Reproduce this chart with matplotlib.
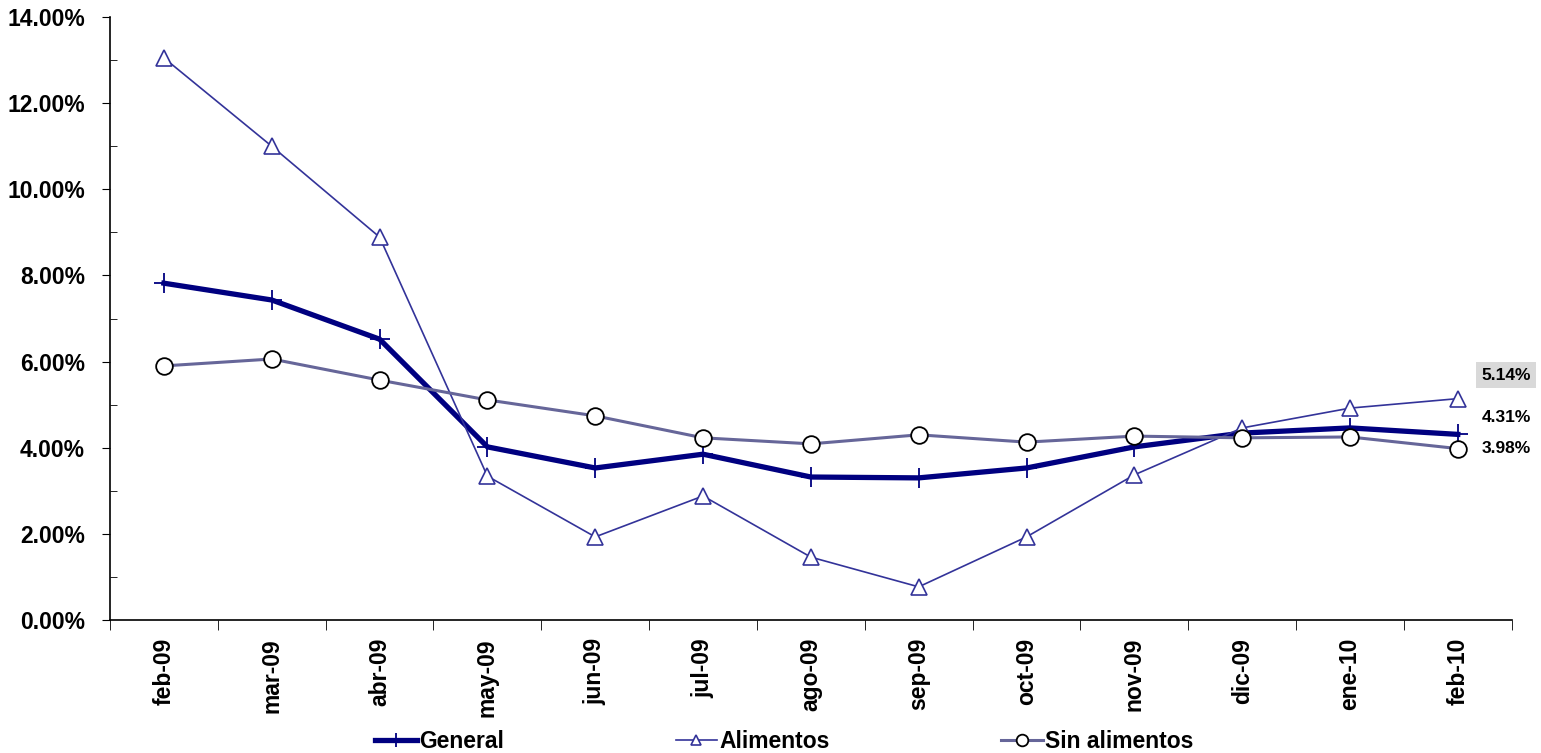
import matplotlib.pyplot as plt
from matplotlib.ticker import FuncFormatter, MultipleLocator

plt.rcParams['font.family'] = ['Liberation Sans', 'DejaVu Sans']
plt.rcParams['font.weight'] = 'bold'

meses = ['feb-09', 'mar-09', 'abr-09', 'may-09', 'jun-09', 'jul-09', 'ago-09',
         'sep-09', 'oct-09', 'nov-09', 'dic-09', 'ene-10', 'feb-10']
general = [7.82, 7.43, 6.52, 4.02, 3.53, 3.85, 3.32, 3.30, 3.53, 4.02, 4.34, 4.46, 4.31]
alimentos = [13.05, 11.00, 8.89, 3.34, 1.93, 2.88, 1.46, 0.77, 1.93, 3.37, 4.46, 4.92, 5.14]
sin_alimentos = [5.90, 6.06, 5.57, 5.11, 4.74, 4.23, 4.09, 4.30, 4.13, 4.27, 4.23, 4.25, 3.98]

fig = plt.figure(figsize=(15.41, 7.53), dpi=100)
ax = fig.add_axes([0.0714, 0.1766, 0.9096, 0.8008])

x = list(range(len(meses)))
ax.plot(x, general, color='#000080', lw=3.8, marker='+', ms=14, mew=1.3,
        label='General', zorder=3)
ax.plot(x, alimentos, color='#333399', lw=1.2, marker='^', ms=11, mew=1.2,
        mfc='white', mec='#333399', label='Alimentos', zorder=4)
ax.plot(x, sin_alimentos, color='#666699', lw=2.2, marker='o', ms=12, mew=1.3,
        mfc='white', mec='black', label='Sin alimentos', zorder=5)

# etiquetas del ultimo punto
last = len(meses) - 1
ax.annotate(f'{alimentos[-1]:.2f}%', (last, alimentos[-1]), xytext=(17, 17),
            textcoords='offset points', fontsize=12.5, fontweight='bold', va='center',
            bbox=dict(boxstyle='square,pad=0.3', fc='#d9d9d9', ec='none'))
ax.annotate(f'{general[-1]:.2f}%', (last, general[-1]), xytext=(17, 12),
            textcoords='offset points', fontsize=12.5, fontweight='bold', va='center')
ax.annotate(f'{sin_alimentos[-1]:.2f}%', (last, sin_alimentos[-1]), xytext=(17, 0),
            textcoords='offset points', fontsize=12.5, fontweight='bold', va='center')

ax.set_xlim(-0.5, len(meses) - 0.5)
ax.set_ylim(0, 14)
ax.yaxis.set_major_locator(MultipleLocator(2))
ax.yaxis.set_minor_locator(MultipleLocator(1))
ax.yaxis.set_major_formatter(FuncFormatter(lambda v, p: f'{v:.2f}%'))
ax.tick_params(axis='y', which='major', direction='out', length=6, labelsize=16.5, pad=12)
ax.tick_params(axis='y', which='minor', direction='in', length=5)

ax.set_xticks(x)
ax.set_xticklabels(meses, rotation=90, fontsize=16.5, fontweight='bold')
ax.tick_params(axis='x', which='major', length=0, pad=13)
ax.set_xticks([i - 0.5 for i in range(len(meses) + 1)], minor=True)
ax.tick_params(axis='x', which='minor', direction='out', length=7)

for lab in ax.get_yticklabels():
    lab.set_fontweight('bold')

for s in ['top', 'right']:
    ax.spines[s].set_visible(False)
ax.spines['left'].set_linewidth(1.2)
ax.spines['bottom'].set_linewidth(1.2)

fig.legend(loc='lower center', bbox_to_anchor=(0.509, -0.028), ncol=3, frameon=False,
           prop={'size': 16.5, 'weight': 'bold'}, columnspacing=7.5, handlelength=1.8,
           handletextpad=0.1, markerscale=0.7)

fig.savefig('out.png', dpi=100)
